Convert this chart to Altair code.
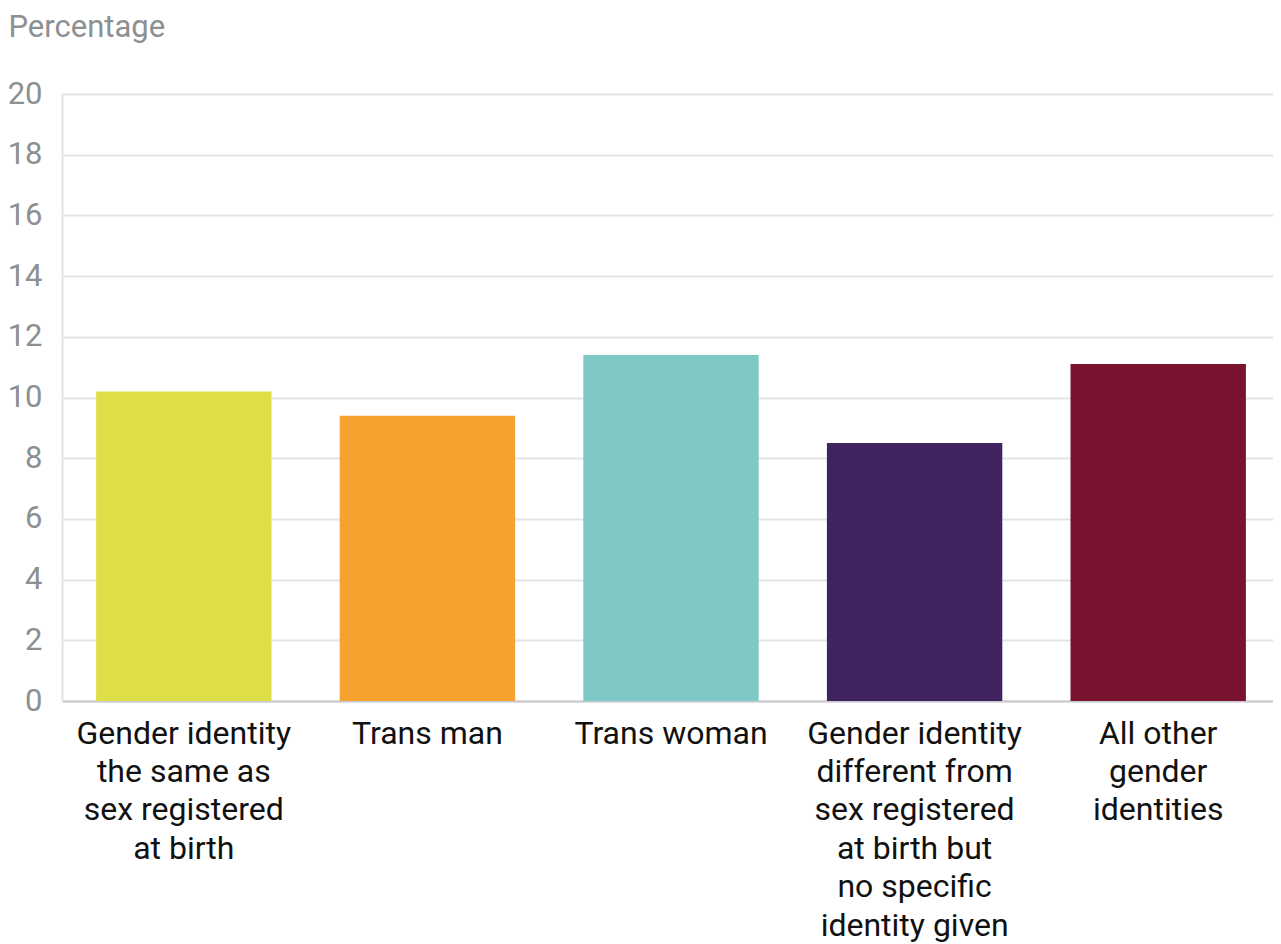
import altair as alt
import pandas as pd

categories = [
    "Gender identity|the same as|sex registered|at birth",
    "Trans man",
    "Trans woman",
    "Gender identity|different from|sex registered|at birth but|no specific|identity given",
    "All other|gender|identities",
]
values = [10.2, 9.4, 11.4, 8.5, 11.1]
colors = ["#dedf47", "#f6a22f", "#7ec8c5", "#3f2460", "#7a1330"]
y_ticks = [0, 2, 4, 6, 8, 10, 12, 14, 16, 18, 20]

df = pd.DataFrame({"category": categories, "value": values})

chart = (
    alt.Chart(df)
    .mark_bar()
    .encode(
        x=alt.X(
            "category:N",
            sort=categories,
            scale=alt.Scale(paddingInner=0.28, paddingOuter=0.14),
            axis=alt.Axis(
                title=None,
                labelAngle=0,
                labelExpr="split(datum.label, '|')",
                labelFont="Roboto",
                labelFontSize=32,
                labelColor="#111111",
                labelLineHeight=38.4,
                labelBaseline="top",
                labelPadding=17,
                labelLimit=400,
                ticks=False,
                domainColor="#c9cacf",
                domainWidth=2,
                grid=False,
            ),
        ),
        y=alt.Y(
            "value:Q",
            scale=alt.Scale(domain=[0, 20], nice=False),
            axis=alt.Axis(
                title="Percentage",
                titleAngle=0,
                titleAlign="left",
                titleBaseline="middle",
                titleX=-54,
                titleY=-67,
                titleFont="Roboto",
                titleFontSize=31,
                titleFontWeight="normal",
                titleColor="#8c9091",
                values=y_ticks,
                labelFont="Roboto",
                labelFontSize=31,
                labelColor="#8c9091",
                labelPadding=20,
                ticks=False,
                domainColor="#e3e4e8",
                domainWidth=2,
                gridColor="#e3e4e8",
                gridWidth=2,
            ),
        ),
        color=alt.Color(
            "category:N",
            sort=categories,
            scale=alt.Scale(domain=categories, range=colors),
            legend=None,
        ),
    )
    .properties(
        width=1218,
        height=607,
        autosize=alt.AutoSizeParams(type="none"),
        padding={"left": 54, "top": 86, "right": -7, "bottom": 243},
    )
    .configure_view(stroke=None)
)

chart.save("out.html", embed_options={"renderer": "svg", "actions": False})
